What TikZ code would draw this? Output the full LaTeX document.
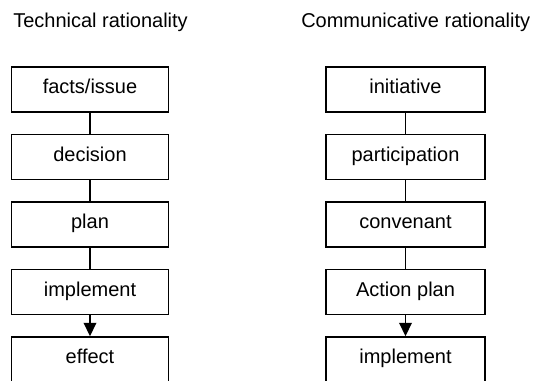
\documentclass[tikz,border=0pt]{standalone}
\usepackage{fontspec}
\setmainfont{Liberation Sans}
\usetikzlibrary{arrows.meta}
\begin{document}
\begin{tikzpicture}[x=0.75pt,y=-0.75pt,
  stage/.style={draw=black, line width=1.3pt, rectangle, inner sep=0pt,
    minimum height=45*0.75pt, text height=1.5ex, text depth=.25ex,
    font=\fontsize{15}{18}\selectfont},
  leftstage/.style={stage, minimum width=157*0.75pt},
  rightstage/.style={stage, minimum width=159*0.75pt},
  title/.style={anchor=base west, inner sep=0pt, font=\fontsize{15}{18}\selectfont},
  link/.style={draw=black, line width=1.3pt},
  flow/.style={link, -{Triangle[length=10pt, width=9.5pt]}}]
  \useasboundingbox (0,0) rectangle (533,381);
  \clip (0,0) rectangle (533,381);

  % column headings
  \node[title] (ttech) at (13,28) {Technical rationality};
  \node[title] (tcomm) at (301,28) {Communicative rationality};

  % technical chain
  \node[leftstage] (l1) at (90,89.5) {facts/issue};
  \node[leftstage] (l2) at (90,157) {decision};
  \node[leftstage] (l3) at (90,224.5) {plan};
  \node[leftstage] (l4) at (90,292) {implement};
  \node[leftstage] (l5) at (90,359.5) {effect};

  % communicative chain
  \node[rightstage] (r1) at (405.5,89.5) {initiative};
  \node[rightstage] (r2) at (405.5,157) {participation};
  \node[rightstage] (r3) at (405.5,224.5) {convenant};
  \node[rightstage] (r4) at (405.5,292) {Action plan};
  \node[rightstage] (r5) at (405.5,359.5) {implement};

  \draw[link] (l1) -- (l2);
  \draw[link] (l2) -- (l3);
  \draw[link] (l3) -- (l4);
  \draw[flow] (l4) -- (l5);

  \draw[link] (r1) -- (r2);
  \draw[link] (r2) -- (r3);
  \draw[link] (r3) -- (r4);
  \draw[flow] (r4) -- (r5);
\end{tikzpicture}
\end{document}
